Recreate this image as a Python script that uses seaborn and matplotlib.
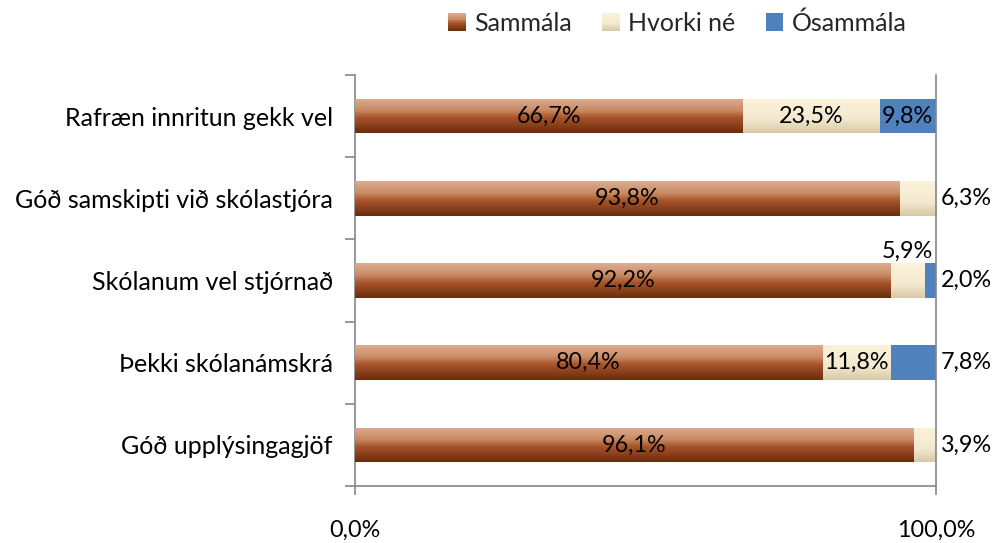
import numpy as np
import pandas as pd
import matplotlib
matplotlib.use("Agg")
import matplotlib.pyplot as plt
import seaborn as sns
from matplotlib.legend_handler import HandlerBase
from matplotlib.patches import Rectangle
from matplotlib.colors import LinearSegmentedColormap

# ---------------- data ----------------
categories = [
    "Rafræn innritun gekk vel",
    "Góð samskipti við skólastjóra",
    "Skólanum vel stjórnað",
    "Þekki skólanámskrá",
    "Góð upplýsingagjöf",
]
sammala = [66.7, 93.8, 92.2, 80.4, 96.1]
hvorki = [23.5, 6.3, 5.9, 11.8, 3.9]
osammala = [9.8, 0.0, 2.0, 7.8, 0.0]
series_names = ["Sammála", "Hvorki né", "Ósammála"]
x_tick_values = [0, 100]
x_tick_labels = ["0,0%", "100,0%"]

# ---------------- style ----------------
sns.set_theme(style="white")
plt.rcParams["font.family"] = ["Lato", "DejaVu Sans"]
FS_TXT = 18
FS_NUM = 16.8
GRAY = "#868686"

cm_brown = LinearSegmentedColormap.from_list(
    "brown", [(0.0, "#dcae93"), (0.35, "#c98a62"), (0.55, "#a9552b"), (1.0, "#6a2b0c")])
cm_cream = LinearSegmentedColormap.from_list(
    "cream", [(0.0, "#fcf1da"), (0.6, "#f4e9d0"), (1.0, "#d8c9a6")])
BLUE = "#4f81bd"

fig = plt.figure(figsize=(10.02, 5.43), dpi=100)
ax = fig.add_axes([0.3543, 0.105, 0.5798, 0.757])

df = pd.DataFrame({"cat": categories, "s": sammala, "h": hvorki, "o": osammala})
df["c2"] = df["s"] + df["h"]
df["c3"] = df["c2"] + df["o"]

BW = 0.42
n0 = len(ax.patches)
sns.barplot(data=df, x="c3", y="cat", orient="h", color=BLUE, saturation=1,
            width=BW, ax=ax, zorder=1)
blue_patches = ax.patches[n0:]
n1 = len(ax.patches)
sns.barplot(data=df, x="c2", y="cat", orient="h", color="#f4e9d0", saturation=1,
            width=BW, ax=ax, zorder=2)
cream_patches = ax.patches[n1:]
n2 = len(ax.patches)
sns.barplot(data=df, x="s", y="cat", orient="h", color="#a9552b", saturation=1,
            width=BW, ax=ax, zorder=3)
brown_patches = ax.patches[n2:]

for p, v in zip(blue_patches, osammala):
    p.set_linewidth(0)
    if v <= 0:
        p.set_visible(False)

grad = np.linspace(0, 1, 256).reshape(-1, 1)
def overlay(patches, cmap, z):
    for p in patches:
        p.set_linewidth(0)
        x0, w = p.get_x(), p.get_width()
        y0, h = p.get_y(), p.get_height()
        im = ax.imshow(grad, cmap=cmap, aspect="auto", origin="upper",
                       extent=(x0, x0 + w, y0 + h, y0), zorder=z,
                       interpolation="bilinear")
        im.set_clip_path(p)

overlay(cream_patches, cm_cream, 2.5)
overlay(brown_patches, cm_brown, 3.5)

ax.set_xlim(0, 100)
ax.set_ylim(len(categories) - 0.5, -0.5)
ax.set_xlabel("")
ax.set_ylabel("")

# ---------------- labels ----------------
outside = {(1, 1), (2, 2), (3, 2), (4, 1)}
above = {(2, 1)}
for i in range(len(categories)):
    starts = [0, sammala[i], sammala[i] + hvorki[i]]
    vals = [sammala[i], hvorki[i], osammala[i]]
    for j, v in enumerate(vals):
        if v <= 0:
            continue
        txt = f"{v:.1f}".replace(".", ",") + "%"
        if (i, j) in outside:
            ax.text(100.9, i, txt, ha="left", va="center", fontsize=FS_NUM,
                    color="black", zorder=6, clip_on=False)
        elif (i, j) in above:
            ax.text(starts[j] + v / 2, i - 0.35, txt, ha="center", va="center",
                    fontsize=FS_NUM, color="black", zorder=6)
        else:
            ax.text(starts[j] + v / 2, i, txt, ha="center", va="center",
                    fontsize=FS_NUM, color="black", zorder=6)

# ---------------- axes ----------------
for s in ["left", "bottom", "right"]:
    ax.spines[s].set_visible(True)
    ax.spines[s].set_color(GRAY)
    ax.spines[s].set_linewidth(1.2)
ax.spines["top"].set_visible(False)

ax.set_xticks(x_tick_values)
ax.set_xticklabels(x_tick_labels, fontsize=FS_NUM, color="black")
ax.tick_params(axis="x", which="major", direction="out", length=6.5,
               width=1.2, color=GRAY, pad=18, bottom=True)
ax.set_yticks(range(len(categories)))
ax.set_yticklabels(categories, fontsize=FS_TXT, color="black")
ax.tick_params(axis="y", which="major", length=0, pad=16, left=True)
ax.set_yticks(np.arange(-0.5, len(categories), 1.0), minor=True)
ax.tick_params(axis="y", which="minor", direction="out", length=7.2,
               width=1.2, color=GRAY, left=True)

# ---------------- legend ----------------
class StripeHandler(HandlerBase):
    def __init__(self, cmap=None, color=None):
        super().__init__()
        self.cmap = cmap
        self.color = color

    def create_artists(self, legend, orig_handle, xdescent, ydescent, width,
                       height, fontsize, trans):
        size = height
        x0 = -xdescent + (width - size) / 2
        y0 = -ydescent
        if self.cmap is None:
            return [Rectangle((x0, y0), size, size, facecolor=self.color,
                              edgecolor="none", transform=trans)]
        n = 24
        arts = []
        for k in range(n):
            col = self.cmap(1 - (k + 0.5) / n)
            arts.append(Rectangle((x0, y0 + k * size / n), size, size / n + 0.05,
                                  facecolor=col, edgecolor="none", transform=trans))
        return arts

h1 = Rectangle((0, 0), 1, 1)
h2 = Rectangle((0, 0), 1, 1)
h3 = Rectangle((0, 0), 1, 1)
fig.legend([h1, h2, h3], series_names, loc="center", bbox_to_anchor=(0.676, 0.958),
           ncol=3, frameon=False, fontsize=FS_TXT, handlelength=0.7, handleheight=0.7,
           handletextpad=0.35, columnspacing=1.2,
           handler_map={h1: StripeHandler(cm_brown), h2: StripeHandler(cm_cream),
                        h3: StripeHandler(color=BLUE)})

fig.savefig("out.png", dpi=100, facecolor="white")
